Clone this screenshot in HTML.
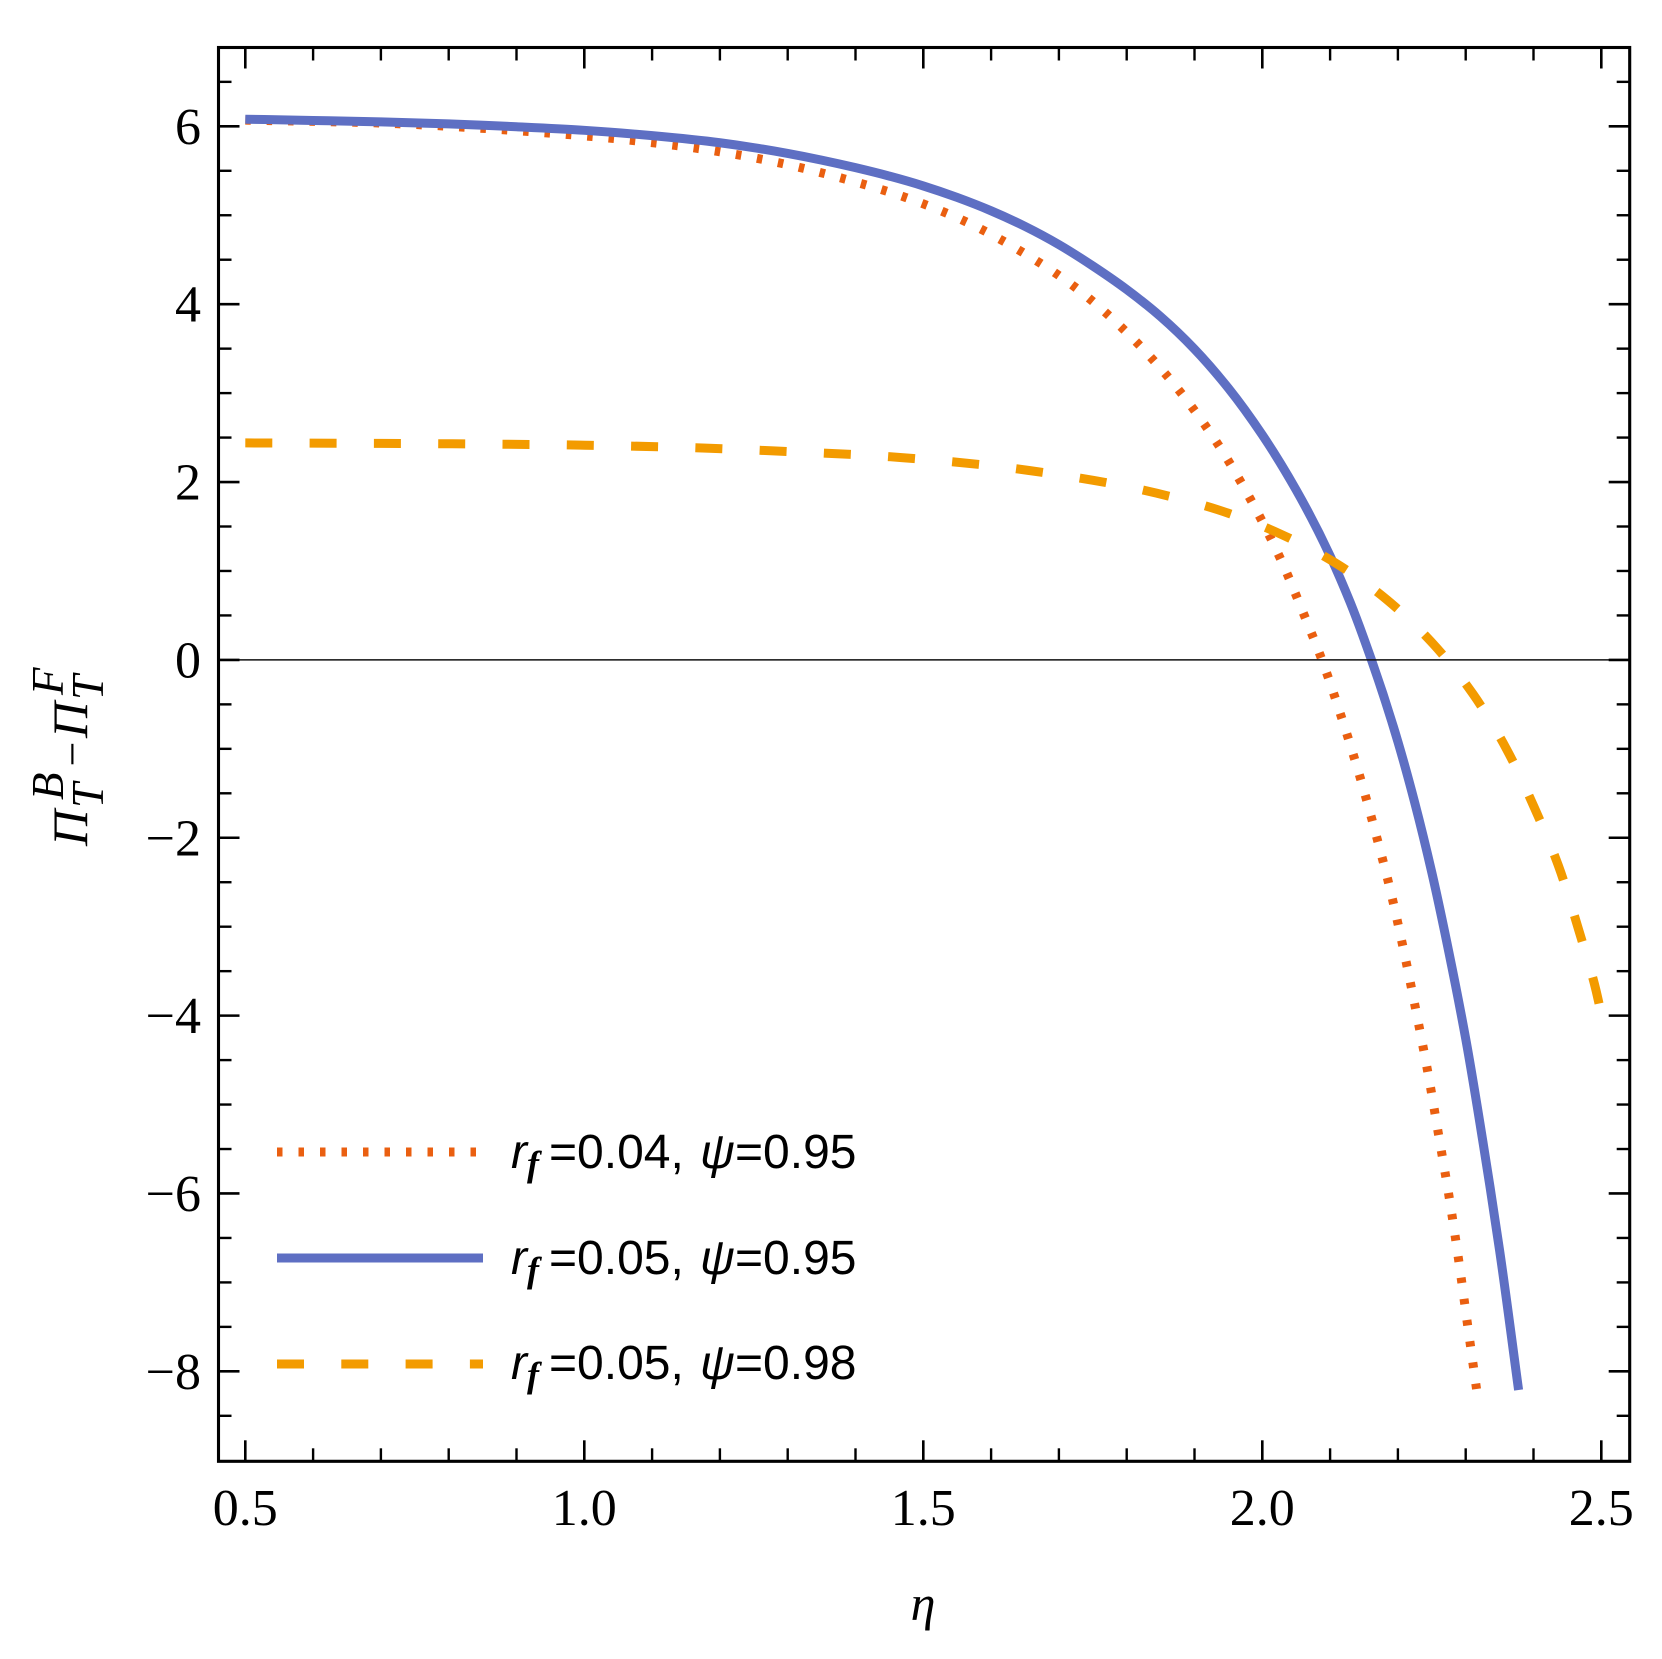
<!DOCTYPE html>
<html lang="en">
<head>
<meta charset="utf-8">
<title>Profit difference versus eta</title>
<style>
html,body{margin:0;padding:0;background:#fff;width:1662px;height:1659px;overflow:hidden}
svg{display:block}
.tick-label{font-family:"Liberation Serif",serif;font-size:52px;fill:#000}
.math{font-family:"Liberation Serif",serif;font-style:italic;fill:#000}
.legend-text{font-family:"Liberation Sans",sans-serif;font-size:48px;fill:#000}
.sub-f{font-family:"Liberation Serif",serif;font-style:italic;font-weight:bold;font-size:36px}
</style>
</head>
<body>
<svg id="chart" xmlns="http://www.w3.org/2000/svg" width="1662" height="1659" viewBox="0 0 1662 1659">
  <rect x="0" y="0" width="1662" height="1659" fill="#fff"/>
  <g id="series-layer"></g>
  <g id="axis-layer"></g>

  <text class="math" x="923" y="1620" font-size="50" text-anchor="middle">η</text>

  <g transform="translate(87,846) rotate(-90)">
    <text class="math" font-size="50" x="0" y="0">Π</text>
    <text class="math" font-size="45" x="46" y="-24">B</text>
    <text class="math" font-size="45" x="38" y="16">T</text>
    <text class="math" font-size="44" x="92" y="0" text-anchor="middle" style="font-style:normal">−</text>
    <text class="math" font-size="50" x="108" y="0">Π</text>
    <text class="math" font-size="45" x="151" y="-24">F</text>
    <text class="math" font-size="45" x="146" y="16">T</text>
  </g>

  <g>
    <g>
      <line x1="277" y1="1152" x2="483" y2="1152" stroke="#ea5f10" stroke-width="9" stroke-dasharray="5.5 16"/>
      <text class="legend-text" y="1168"><tspan x="511" font-style="italic">r</tspan><tspan class="sub-f" x="527" dy="8">f</tspan><tspan x="549" dy="-8">=0.04,</tspan><tspan x="700" font-style="italic">ψ</tspan><tspan x="735">=0.95</tspan></text>
    </g>
    <g>
      <line x1="277" y1="1258" x2="483" y2="1258" stroke="#5e6fc3" stroke-width="9"/>
      <text class="legend-text" y="1274"><tspan x="511" font-style="italic">r</tspan><tspan class="sub-f" x="527" dy="8">f</tspan><tspan x="549" dy="-8">=0.05,</tspan><tspan x="700" font-style="italic">ψ</tspan><tspan x="735">=0.95</tspan></text>
    </g>
    <g>
      <line x1="277" y1="1364" x2="483" y2="1364" stroke="#f39b00" stroke-width="9" stroke-dasharray="27 37.3"/>
      <text class="legend-text" y="1379"><tspan x="511" font-style="italic">r</tspan><tspan class="sub-f" x="527" dy="8">f</tspan><tspan x="549" dy="-8">=0.05,</tspan><tspan x="700" font-style="italic">ψ</tspan><tspan x="735">=0.98</tspan></text>
    </g>
  </g>
</svg>

<script>
const xMajorTicks = [0.5, 1.0, 1.5, 2.0, 2.5];
const xMinorTicks = [0.6, 0.7, 0.8, 0.9, 1.1, 1.2, 1.3, 1.4, 1.6, 1.7, 1.8, 1.9, 2.1, 2.2, 2.3, 2.4];
const xTickLabels = ["0.5", "1.0", "1.5", "2.0", "2.5"];
const yMajorTicks = [6, 4, 2, 0, -2, -4, -6, -8];
const yMinorTicks = [6.5, 5.5, 5, 4.5, 3.5, 3, 2.5, 1.5, 1, 0.5, -0.5, -1, -1.5, -2.5, -3, -3.5, -4.5, -5, -5.5, -6.5, -7, -7.5, -8.5];
const yTickLabels = ["6", "4", "2", "0", "−2", "−4", "−6", "−8"];

const dottedEta = [0.5, 0.723, 0.92, 1.072, 1.198, 1.29, 1.383, 1.474, 1.562, 1.645, 1.724, 1.795, 1.86, 1.935, 1.983, 2.026, 2.063, 2.086, 2.117, 2.145, 2.17, 2.186, 2.207, 2.226, 2.244, 2.26, 2.276, 2.29, 2.303, 2.316];
const dottedValues = [6.07, 6.03, 5.94, 5.84, 5.716, 5.585, 5.41, 5.2, 4.93, 4.59, 4.19, 3.72, 3.19, 2.42, 1.8, 1.15, 0.48, 0.04, -0.65, -1.34, -2.03, -2.5, -3.21, -3.92, -4.63, -5.34, -6.06, -6.77, -7.49, -8.2];

const solidEta = [0.5, 0.6, 0.7, 0.8, 0.9, 1.0, 1.1, 1.2, 1.25, 1.3, 1.35, 1.4, 1.45, 1.5, 1.55, 1.6, 1.65, 1.7, 1.75, 1.8, 1.85, 1.9, 1.95, 2.0, 2.05, 2.1, 2.13, 2.161, 2.2, 2.225, 2.25, 2.275, 2.3, 2.325, 2.35, 2.378];
const solidValues = [6.08, 6.066, 6.05, 6.027, 5.995, 5.955, 5.895, 5.815, 5.76, 5.695, 5.62, 5.535, 5.44, 5.33, 5.2, 5.05, 4.875, 4.67, 4.43, 4.165, 3.86, 3.495, 3.055, 2.53, 1.91, 1.17, 0.64, 0, -0.92, -1.61, -2.39, -3.28, -4.26, -5.4, -6.64, -8.21];

const dashedEta = [0.5, 0.805, 0.994, 1.184, 1.279, 1.468, 1.656, 1.844, 1.934, 2.024, 2.107, 2.184, 2.252, 2.311, 2.36, 2.401, 2.437, 2.466, 2.492, 2.5];
const dashedValues = [2.44, 2.43, 2.415, 2.38, 2.35, 2.275, 2.13, 1.875, 1.69, 1.425, 1.094, 0.675, 0.18, -0.386, -1.0, -1.657, -2.32, -3.02, -3.71, -3.98];

const NS = "http://www.w3.org/2000/svg";
const frame = {left: 218.5, right: 1629.7, top: 47.5, bottom: 1461.3};

function xScale(v) { return 245.3 + (v - 0.5) * 678; }
function yScale(v) { return 659.9 - v * 88.93; }

function smoothPath(xs, ys) {
  const p = xs.map(function (x, i) { return [xScale(x), yScale(ys[i])]; });
  const n = p.length;
  const d = [];
  for (let i = 0; i < n - 1; i++) d.push(Math.hypot(p[i + 1][0] - p[i][0], p[i + 1][1] - p[i][1]));
  const m = p.map(function (pt, i) {
    if (i === 0) return [(p[1][0] - pt[0]) / d[0], (p[1][1] - pt[1]) / d[0]];
    if (i === n - 1) return [(pt[0] - p[i - 1][0]) / d[i - 1], (pt[1] - p[i - 1][1]) / d[i - 1]];
    const d0 = d[i - 1], d1 = d[i];
    return [0, 1].map(function (k) {
      return (((p[i + 1][k] - pt[k]) / d1) * d0 + ((pt[k] - p[i - 1][k]) / d0) * d1) / (d0 + d1);
    });
  });
  let path = "M" + p[0][0].toFixed(2) + " " + p[0][1].toFixed(2);
  for (let i = 0; i < n - 1; i++) {
    const h = d[i] / 3;
    path += "C" + (p[i][0] + m[i][0] * h).toFixed(2) + " " + (p[i][1] + m[i][1] * h).toFixed(2) + " " +
      (p[i + 1][0] - m[i + 1][0] * h).toFixed(2) + " " + (p[i + 1][1] - m[i + 1][1] * h).toFixed(2) + " " +
      p[i + 1][0].toFixed(2) + " " + p[i + 1][1].toFixed(2);
  }
  return path;
}

const seriesLayer = document.getElementById("series-layer");
const axisLayer = document.getElementById("axis-layer");

function drawSeries(name, xs, ys, color, dash) {
  const el = document.createElementNS(NS, "path");
  
  
  el.setAttribute("d", smoothPath(xs, ys));
  el.setAttribute("fill", "none");
  el.setAttribute("stroke", color);
  el.setAttribute("stroke-width", "9");
  el.setAttribute("stroke-linejoin", "round");
  if (dash) el.setAttribute("stroke-dasharray", dash);
  seriesLayer.appendChild(el);
}

function drawLine(name, x1, y1, x2, y2, width, color) {
  const el = document.createElementNS(NS, "line");
  
  
  el.setAttribute("x1", x1);
  el.setAttribute("y1", y1);
  el.setAttribute("x2", x2);
  el.setAttribute("y2", y2);
  el.setAttribute("stroke", color);
  el.setAttribute("stroke-width", width);
  axisLayer.appendChild(el);
}

function drawLabel(name, x, y, anchor, str) {
  const el = document.createElementNS(NS, "text");
  
  
  el.setAttribute("class", "tick-label");
  el.setAttribute("x", x);
  el.setAttribute("y", y);
  el.setAttribute("text-anchor", anchor);
  el.textContent = str;
  axisLayer.appendChild(el);
}

drawSeries("series-rf-004-psi-095-dotted", dottedEta, dottedValues, "#ea5f10", "5.5 15.9");
drawSeries("series-rf-005-psi-095-solid", solidEta, solidValues, "#5e6fc3", null);
drawSeries("series-rf-005-psi-098-dashed", dashedEta, dashedValues, "#f39b00", "27 37.3");

drawLine("zero-line", frame.left, yScale(0), frame.right, yScale(0), 1.5, "#111");

xMajorTicks.forEach(function (v, i) {
  const x = xScale(v);
  drawLine("x-major-tick-bottom", x, frame.bottom, x, frame.bottom - 21, 2.6, "#000");
  drawLine("x-major-tick-top", x, frame.top, x, frame.top + 21, 2.6, "#000");
  drawLabel("x-tick-label", x, 1525, "middle", xTickLabels[i]);
});
xMinorTicks.forEach(function (v) {
  const x = xScale(v);
  drawLine("x-minor-tick-bottom", x, frame.bottom, x, frame.bottom - 13, 2.4, "#000");
  drawLine("x-minor-tick-top", x, frame.top, x, frame.top + 13, 2.4, "#000");
});
yMajorTicks.forEach(function (v, i) {
  const y = yScale(v);
  drawLine("y-major-tick-left", frame.left, y, frame.left + 21, y, 2.6, "#000");
  drawLine("y-major-tick-right", frame.right, y, frame.right - 21, y, 2.6, "#000");
  drawLabel("y-tick-label", 201, y + 17.5, "end", yTickLabels[i]);
});
yMinorTicks.forEach(function (v) {
  const y = yScale(v);
  drawLine("y-minor-tick-left", frame.left, y, frame.left + 13, y, 2.4, "#000");
  drawLine("y-minor-tick-right", frame.right, y, frame.right - 13, y, 2.4, "#000");
});

const border = document.createElementNS(NS, "rect");


border.setAttribute("x", frame.left);
border.setAttribute("y", frame.top);
border.setAttribute("width", frame.right - frame.left);
border.setAttribute("height", frame.bottom - frame.top);
border.setAttribute("fill", "none");
border.setAttribute("stroke", "#000");
border.setAttribute("stroke-width", "3.1");
axisLayer.appendChild(border);
</script>
</body>
</html>
